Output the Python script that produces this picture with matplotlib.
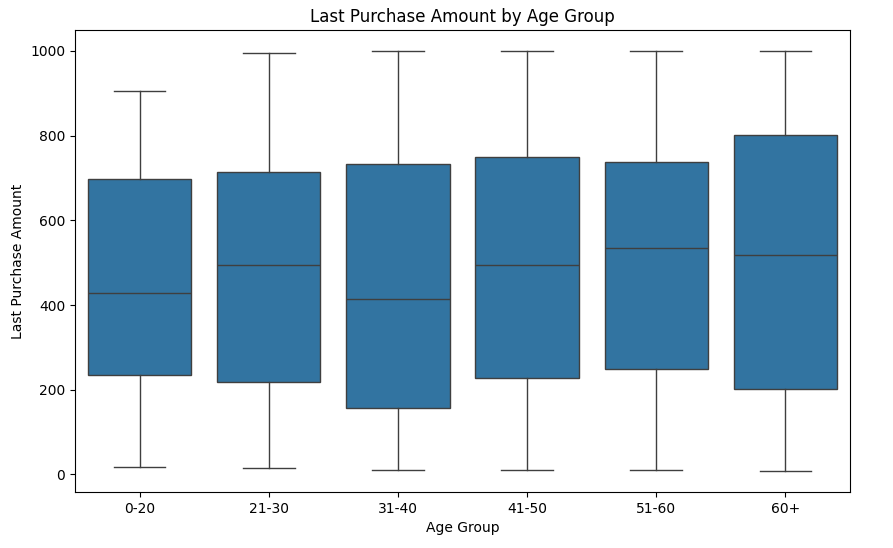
import matplotlib
matplotlib.use("Agg")
import matplotlib.pyplot as plt

# Значения (квартили и усы)
age_groups = ["0-20", "21-30", "31-40", "41-50", "51-60", "60+"]
whisker_low = [18, 16, 11, 11, 11, 8]
q1 = [235, 218, 157, 228, 249, 202]
median = [429, 494, 415, 495, 535, 519]
q3 = [698, 715, 734, 750, 738, 801]
whisker_high = [905, 996, 1000, 1000, 1000, 1000]

box_color = "#3274a1"
line_color = "#3f3f3f"

stats = []
for i, name in enumerate(age_groups):
    stats.append({
        "label": name,
        "whislo": whisker_low[i],
        "q1": q1[i],
        "med": median[i],
        "q3": q3[i],
        "whishi": whisker_high[i],
        "fliers": [],
    })

fig = plt.figure(figsize=(8.93, 5.48), dpi=100)
ax = fig.add_axes([75 / 893, 56 / 548, 775 / 893, 462 / 548])

lw = 1.0
ax.bxp(
    stats,
    positions=range(len(age_groups)),
    widths=0.8,
    patch_artist=True,
    showfliers=False,
    boxprops=dict(facecolor=box_color, edgecolor=line_color, linewidth=lw),
    medianprops=dict(color=line_color, linewidth=lw),
    whiskerprops=dict(color=line_color, linewidth=lw),
    capprops=dict(color=line_color, linewidth=lw),
    capwidths=0.4,
)

ax.set_xlim(-0.5, len(age_groups) - 0.5)
ax.set_ylim(-41.6, 1049.6)
ax.set_yticks([0, 200, 400, 600, 800, 1000])
ax.set_xticks(range(len(age_groups)))
ax.set_xticklabels(age_groups)

ax.set_title("Last Purchase Amount by Age Group")
ax.set_xlabel("Age Group")
ax.set_ylabel("Last Purchase Amount")

fig.savefig("out.png", dpi=100)
